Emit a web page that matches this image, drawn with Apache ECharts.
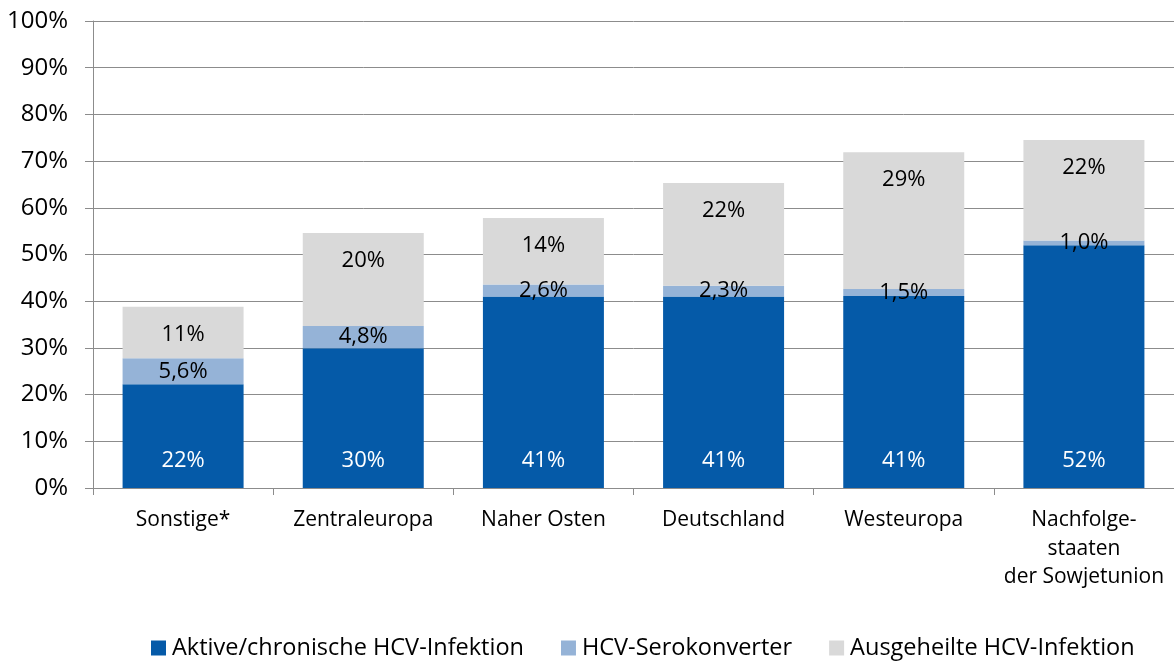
<!DOCTYPE html>
<html>
<head>
<meta charset="utf-8">
<script src="https://cdn.jsdelivr.net/npm/echarts@6/dist/echarts.min.js"></script>
<style>html,body{margin:0;padding:0;background:#fff}#c{width:1174px;height:662px}</style>
</head>
<body>
<div id="c"></div>
<script>
var categories = ['Sonstige*', 'Zentraleuropa', 'Naher Osten', 'Deutschland', 'Westeuropa', 'Nachfolge-\nstaaten\nder Sowjetunion'];
var seriesNames = ['Aktive/chronische HCV-Infektion', 'HCV-Serokonverter', 'Ausgeheilte HCV-Infektion'];
var activeValues = [22.2, 29.9, 41.0, 41.0, 41.1, 52.0];
var seroValues = [5.6, 4.8, 2.6, 2.3, 1.5, 1.0];
var healedValues = [11.0, 19.9, 14.2, 22.0, 29.3, 21.5];
var activeLabels = ['22%', '30%', '41%', '41%', '41%', '52%'];
var seroLabels = ['5,6%', '4,8%', '2,6%', '2,3%', '1,5%', '1,0%'];
var healedLabels = ['11%', '20%', '14%', '22%', '29%', '22%'];

var FONT = 'Open Sans';
var chart = echarts.init(document.getElementById('c'), null, {renderer: 'canvas'});
function mk(name, values, labels, color, pos, dist, txtColor) {
  return {
    name: name, type: 'bar', stack: 'total', data: values, barWidth: 121,
    itemStyle: {color: color},
    label: {
      show: true, position: pos, distance: dist, color: txtColor,
      fontFamily: FONT, fontSize: 22,
      formatter: function (p) { return labels[p.dataIndex]; }
    },
    emphasis: {disabled: true}
  };
}
chart.setOption({
  animation: false,
  textStyle: {fontFamily: FONT},
  grid: {left: 93, top: 21, bottom: 174, width: 1086, containLabel: false},
  legend: {
    data: seriesNames, left: 151, top: 636, padding: 0, icon: 'rect', itemWidth: 15, itemHeight: 15,
    itemGap: 37, textStyle: {fontFamily: FONT, fontSize: 23.5, color: '#000', padding: [0, 0, 0, 1]}
  },
  xAxis: {
    type: 'category', data: categories,
    axisLine: {lineStyle: {color: '#8c8c8c', width: 1}},
    axisTick: {show: true, length: 7, lineStyle: {color: '#8c8c8c'}},
    axisLabel: {fontFamily: FONT, fontSize: 21, color: '#000', margin: 18, lineHeight: 28.5, interval: 0}
  },
  yAxis: {
    type: 'value', min: 0, max: 100, interval: 10,
    axisLine: {show: true, lineStyle: {color: '#8c8c8c', width: 1}},
    axisTick: {show: true, length: 8, lineStyle: {color: '#8c8c8c'}},
    splitLine: {lineStyle: {color: '#8c8c8c', width: 1}},
    axisLabel: {fontFamily: FONT, fontSize: 24, color: '#000', margin: 25, formatter: '{value}%'}
  },
  series: [
    mk(seriesNames[0], activeValues, activeLabels, '#055aa8', 'insideBottom', 16, '#fff'),
    mk(seriesNames[1], seroValues, seroLabels, '#95b3d7', 'inside', 0, '#000'),
    mk(seriesNames[2], healedValues, healedLabels, '#d9d9d9', 'insideTop', 17, '#000')
  ]
});
</script>
</body>
</html>
